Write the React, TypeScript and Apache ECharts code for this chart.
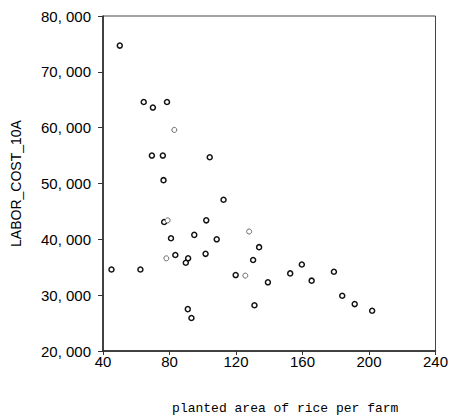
import React, { useEffect, useRef } from "react";
import * as echarts from "echarts";

// Planted area of rice per farm (x) against labour cost per 10a (y)
const mainAreas = [50.1, 45.1, 64.5, 70.0, 78.5, 69.4, 76.0, 104.2, 76.4, 112.5, 76.8, 102.1, 80.9, 94.9, 108.4, 133.9, 83.5, 91.2, 89.8, 101.7, 130.3, 119.8, 139.2, 152.6, 159.6, 165.5, 178.9, 183.9, 191.4, 201.9, 131.1, 91.0, 93.2, 62.5];
const mainCosts = [74700, 34600, 64600, 63600, 64600, 55000, 55000, 54700, 50600, 47100, 43100, 43400, 40200, 40800, 40000, 38600, 37200, 36600, 35800, 37400, 36300, 33600, 32300, 33900, 35500, 32600, 34200, 29900, 28400, 27200, 28200, 27500, 25900, 34600];

// Observations drawn with a lighter stroke
const faintAreas = [82.9, 78.9, 127.9, 78.1, 125.6];
const faintCosts = [59600, 43400, 41400, 36600, 33500];

const xTicks = { min: 40, max: 240, interval: 40 };
const yTicks = { min: 20000, max: 80000, interval: 10000 };

const xName = "planted area of rice per farm";
const yName = "LABOR_COST_10A";

const pair = (xs: number[], ys: number[]) => xs.map((x, i) => [x, ys[i]]);

const fmtThousands = (v: number) => {
  const s = String(Math.round(v));
  return s.length > 3 ? s.slice(0, s.length - 3) + ", " + s.slice(-3) : s;
};

export default function App() {
  const ref = useRef<HTMLDivElement>(null);

  useEffect(() => {
    if (!ref.current) return;
    const chart = echarts.init(ref.current, null, { renderer: "svg" });
    const labelFont = "'Liberation Sans', Arial, sans-serif";
    chart.setOption({
      animation: false,
      backgroundColor: "#ffffff",
      grid: {
        left: 103,
        top: 16,
        width: 337,
        height: 337,
        show: true,
        borderColor: "#444",
        borderWidth: 1,
        backgroundColor: "transparent",
      },
      xAxis: {
        type: "value",
        min: xTicks.min,
        max: xTicks.max,
        interval: xTicks.interval,
        name: xName,
        nameLocation: "middle",
        nameGap: 51,
        nameTextStyle: {
          fontFamily: "'Liberation Mono', 'DejaVu Sans Mono', monospace",
          fontSize: 13,
          color: "#000",
          padding: [0, 0, 0, 32],
        },
        splitLine: { show: false },
        axisLine: { show: true, lineStyle: { color: "#222", width: 1.5 } },
        axisTick: { show: true, length: 4, lineStyle: { color: "#333" } },
        axisLabel: {
          margin: 3,
          fontFamily: labelFont,
          fontSize: 15,
          color: "#000",
          showMaxLabel: true,
        },
      },
      yAxis: {
        type: "value",
        min: yTicks.min,
        max: yTicks.max,
        interval: yTicks.interval,
        name: yName,
        nameLocation: "middle",
        nameGap: 80,
        nameTextStyle: {
          fontFamily: labelFont,
          fontSize: 14,
          color: "#000",
        },
        splitLine: { show: false },
        axisLine: { show: true, lineStyle: { color: "#222", width: 1.5 } },
        axisTick: { show: true, length: 5, lineStyle: { color: "#333" } },
        axisLabel: {
          margin: 12,
          fontFamily: labelFont,
          fontSize: 15,
          color: "#000",
          formatter: (v: number) => fmtThousands(v),
        },
      },
      series: [
        {
          type: "scatter",
          data: pair(mainAreas, mainCosts),
          symbol: "circle",
          symbolSize: 5,
          itemStyle: { color: "#fff", borderColor: "#111", borderWidth: 1.5, opacity: 1 },
        },
        {
          type: "scatter",
          data: pair(faintAreas, faintCosts),
          symbol: "circle",
          symbolSize: 5,
          itemStyle: { color: "#fff", borderColor: "#666", borderWidth: 1, opacity: 1 },
        },
      ],
    });
    return () => chart.dispose();
  }, []);

  return <div ref={ref} style={{ width: 451, height: 420, position: "absolute", left: 0, top: 0 }} />;
}
